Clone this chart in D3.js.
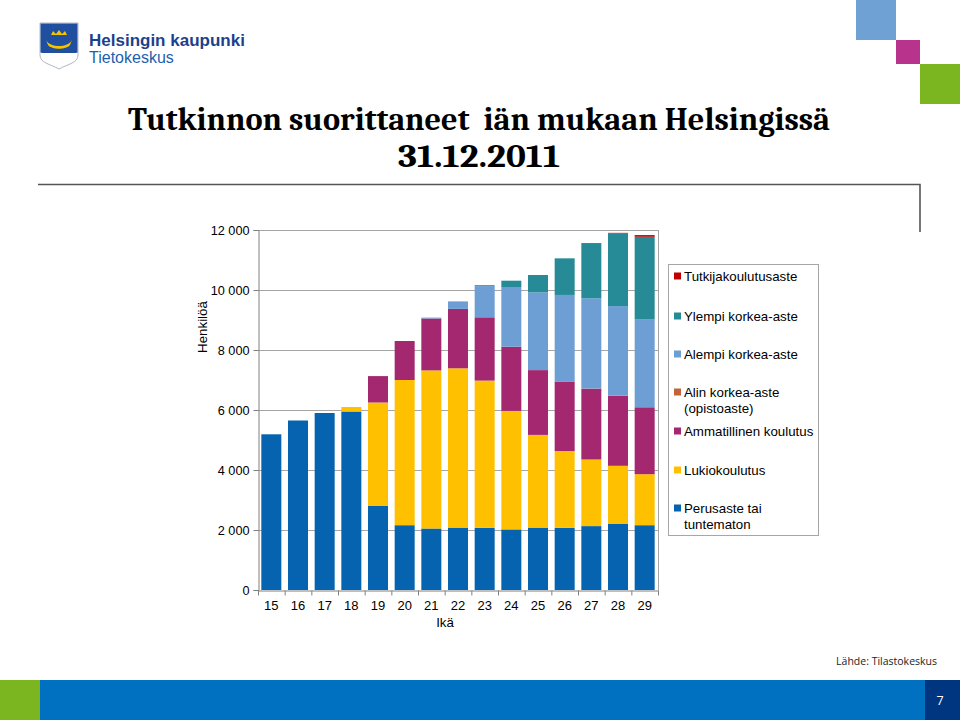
<!DOCTYPE html>
<html>
<head>
<meta charset="utf-8">
<script src="https://cdn.jsdelivr.net/npm/d3@7"></script>
<style>
  html, body { margin: 0; padding: 0; background: #fff; }
  svg { display: block; }
</style>
</head>
<body>
<div id="chart"></div>
<script>
var TEXTFONT = 'Liberation Sans, Arial, sans-serif';

// data
var ages = ['15', '16', '17', '18', '19', '20', '21', '22', '23', '24', '25', '26', '27', '28', '29'];
var perusaste = [5190, 5650, 5900, 5950, 2800, 2160, 2050, 2080, 2070, 2020, 2080, 2070, 2130, 2200, 2160];
var lukio = [0, 0, 0, 150, 3450, 4840, 5270, 5310, 4910, 3950, 3090, 2560, 2220, 1940, 1700];
var ammatillinen = [0, 0, 0, 0, 880, 1300, 1730, 1980, 2110, 2140, 2160, 2320, 2360, 2330, 2230];
var alin = [0, 0, 0, 0, 0, 0, 0, 0, 0, 0, 0, 5, 5, 5, 5];
var alempi = [0, 0, 0, 0, 0, 0, 30, 250, 1040, 1990, 2590, 2880, 3010, 2990, 2920];
var ylempi = [0, 0, 0, 0, 0, 0, 0, 0, 30, 210, 580, 1220, 1840, 2430, 2760];
var tutkija = [0, 0, 0, 0, 0, 0, 0, 0, 0, 0, 0, 0, 0, 10, 55];

var seriesNames = ['Perusaste tai tuntematon', 'Lukiokoulutus', 'Ammatillinen koulutus',
  'Alin korkea-aste (opistoaste)', 'Alempi korkea-aste', 'Ylempi korkea-aste', 'Tutkijakoulutusaste'];
var seriesValues = [perusaste, lukio, ammatillinen, alin, alempi, ylempi, tutkija];
var seriesColors = ['#0563af', '#ffc000', '#a3286f', '#c3633a', '#6d9fd4', '#268b96', '#c00000'];
var yTicks = [0, 2000, 4000, 6000, 8000, 10000, 12000];

var W = 960, H = 720;
var svg = d3.select('#chart').append('svg').attr('width', W).attr('height', H)
  .style('font-family', TEXTFONT);

/** Decorations of the slide: corner squares, logo, title, footer. */
function drawSlide(svg) {
  svg.append('rect').attr('x', 856).attr('y', 0).attr('width', 40).attr('height', 40).attr('fill', '#6fa1d4');
  svg.append('rect').attr('x', 896).attr('y', 40).attr('width', 24).attr('height', 24).attr('fill', '#b8338b');
  svg.append('rect').attr('x', 920).attr('y', 64).attr('width', 40).attr('height', 40).attr('fill', '#7bb51f');

  // logo shield
  var logo = svg.append('g').attr('transform', 'translate(40,23)');
  logo.append('path').attr('d', 'M0,0 H38 V32 C38,40 28,41 19,46 C10,41 0,40 0,32 Z')
    .attr('fill', '#fff').attr('stroke', '#9aa4b8').attr('stroke-width', 0.8);
  logo.append('path').attr('d', 'M0.5,0.5 H37.5 V30 H0.5 Z').attr('fill', '#1f4f9e');
  logo.append('path').attr('d', 'M11,12 L13,8 L16,11 L19,7 L22,11 L25,8 L27,12 Z').attr('fill', '#f5c400');
  logo.append('path').attr('d', 'M6,17 C10,25 28,25 32,17 L30,22 C26,27 12,27 8,22 Z').attr('fill', '#f5c400');
  logo.append('path').attr('d', 'M0.5,30 C8,33 30,33 37.5,30').attr('stroke', '#fff').attr('fill', 'none');
  svg.append('text').attr('x', 89).attr('y', 46).text('Helsingin kaupunki')
    .style('font-size', '17px').style('font-weight', 'bold').attr('fill', '#1d3f8c');
  svg.append('text').attr('x', 89).attr('y', 63).text('Tietokeskus')
    .style('font-size', '16px').attr('fill', '#1d5fae');

  var titleFont = 'Cambria, Liberation Serif, Times New Roman, serif';
  svg.append('text').attr('x', 128).attr('y', 130).attr('xml:space', 'preserve')
    .attr('textLength', 702).attr('lengthAdjust', 'spacingAndGlyphs')
    .style('font-family', titleFont).style('font-weight', 'bold').style('font-size', '32px')
    .text('Tutkinnon suorittaneet  iän mukaan Helsingissä');
  svg.append('text').attr('x', 398).attr('y', 167)
    .attr('textLength', 162).attr('lengthAdjust', 'spacingAndGlyphs')
    .style('font-family', titleFont).style('font-weight', 'bold').style('font-size', '32px')
    .text('31.12.2011');

  // frame line under the title
  svg.append('path').attr('d', 'M38,184.5 H920 V232').attr('fill', 'none')
    .attr('stroke', '#555').attr('stroke-width', 1.6);

  svg.append('text').attr('x', 937).attr('y', 665).attr('text-anchor', 'end')
    .text('Lähde: Tilastokeskus').style('font-size', '10.5px').style('font-family', 'Open Sans, sans-serif')
    .attr('fill', '#222');

  svg.append('rect').attr('x', 0).attr('y', 680).attr('width', 40).attr('height', 40).attr('fill', '#7bb51f');
  svg.append('rect').attr('x', 40).attr('y', 680).attr('width', 885).attr('height', 40).attr('fill', '#0070c0');
  svg.append('rect').attr('x', 925).attr('y', 680).attr('width', 35).attr('height', 40).attr('fill', '#003580');
  svg.append('text').attr('x', 940).attr('y', 705).attr('text-anchor', 'middle').text('7')
    .style('font-size', '12.5px').style('font-family', 'Open Sans, sans-serif').attr('fill', '#fff');
}

drawSlide(svg);

// plot area
var plot = { left: 258, right: 658, top: 230, bottom: 590 };
var xScale = d3.scaleBand().domain(ages).range([plot.left, plot.right]).paddingInner(0.25).paddingOuter(0.125);
var yScale = d3.scaleLinear().domain([0, 12000]).range([plot.bottom, plot.top]);

var grp = svg.append('g');
// gridlines
grp.selectAll('line.grid').data(yTicks.slice(1)).enter().append('line')
  .attr('x1', plot.left).attr('x2', plot.right)
  .attr('y1', function (d) { return yScale(d) + 0.5; }).attr('y2', function (d) { return yScale(d) + 0.5; })
  .attr('stroke', '#a6a6a6').attr('stroke-width', 1);
grp.append('line').attr('x1', plot.right + 0.5).attr('x2', plot.right + 0.5)
  .attr('y1', plot.top).attr('y2', plot.bottom).attr('stroke', '#a6a6a6');

// stacked bars
var rows = ages.map(function (a, i) {
  var r = { age: a };
  seriesNames.forEach(function (n, k) { r[n] = seriesValues[k][i]; });
  return r;
});
var stacked = d3.stack().keys(seriesNames)(rows);
stacked.forEach(function (layer, k) {
  grp.append('g').attr('fill', seriesColors[k]).selectAll('rect').data(layer).enter().append('rect')
    .attr('x', function (d) { return xScale(d.data.age); })
    .attr('width', xScale.bandwidth())
    .attr('y', function (d) { return yScale(d[1]); })
    .attr('height', function (d) { return yScale(d[0]) - yScale(d[1]); });
});

// axes
var yAxis = d3.axisLeft(yScale).tickValues(yTicks).tickSize(5).tickPadding(4)
  .tickFormat(function (d) { return d3.format(',')(d).replace(',', ' '); });
var yg = svg.append('g').attr('transform', 'translate(' + (plot.left + 0.5) + ',0)').call(yAxis);
yg.selectAll('line, path').attr('stroke', '#808080');
yg.selectAll('text').style('font-size', '12.7px').style('font-family', TEXTFONT).attr('fill', '#000');

var xAxis = d3.axisBottom(xScale).tickSize(0).tickPadding(10);
var xg = svg.append('g').attr('transform', 'translate(0,' + (plot.bottom + 0.5) + ')').call(xAxis);
xg.select('path').attr('stroke', '#808080');
xg.selectAll('text').style('font-size', '13px').style('font-family', TEXTFONT).attr('fill', '#000');
// category separator ticks
var step = xScale.step();
xg.selectAll('line.sep').data(d3.range(ages.length + 1)).enter().append('line')
  .attr('x1', function (i) { return plot.left + i * step + 0.5; })
  .attr('x2', function (i) { return plot.left + i * step + 0.5; })
  .attr('y1', 0).attr('y2', 5).attr('stroke', '#808080');

svg.append('text').attr('x', 445).attr('y', 627).attr('text-anchor', 'middle').text('Ikä')
  .style('font-size', '13.3px');
svg.append('text').attr('transform', 'translate(207,327) rotate(-90)').attr('text-anchor', 'middle')
  .text('Henkilöä').style('font-size', '13.3px');

// legend
var legend = svg.append('g');
legend.append('rect').attr('x', 668.5).attr('y', 264.5).attr('width', 150).attr('height', 271)
  .attr('fill', '#fff').attr('stroke', '#a6a6a6');
var legendItems = [
  { k: 6, y: 276, lines: ['Tutkijakoulutusaste'] },
  { k: 5, y: 316, lines: ['Ylempi korkea-aste'] },
  { k: 4, y: 354, lines: ['Alempi korkea-aste'] },
  { k: 3, y: 392, lines: ['Alin korkea-aste', '(opistoaste)'] },
  { k: 2, y: 431, lines: ['Ammatillinen koulutus'] },
  { k: 1, y: 470, lines: ['Lukiokoulutus'] },
  { k: 0, y: 508, lines: ['Perusaste tai', 'tuntematon'] }
];
legendItems.forEach(function (it) {
  legend.append('rect').attr('x', 674).attr('y', it.y - 3.5).attr('width', 7).attr('height', 7)
    .attr('fill', seriesColors[it.k]);
  var t = legend.append('text').style('font-size', '13.3px').attr('fill', '#000');
  it.lines.forEach(function (l, j) {
    t.append('tspan').attr('x', 684).attr('y', it.y + 4.5 + j * 16).text(l);
  });
});
</script>
</body>
</html>
